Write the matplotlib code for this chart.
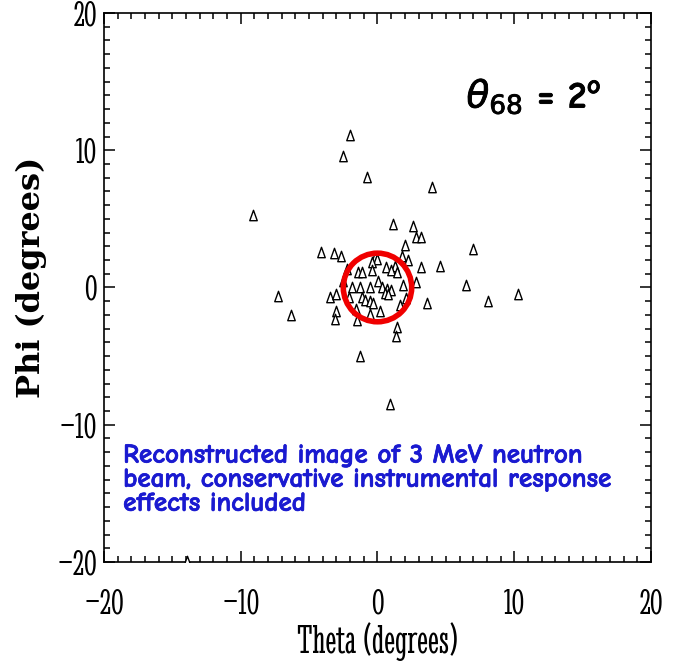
import matplotlib
matplotlib.use("Agg")
import matplotlib.pyplot as plt
import matplotlib.patheffects as pe
from matplotlib.patches import Circle
from matplotlib.path import Path
from matplotlib.ticker import MultipleLocator

# ---- data ----
theta = [-2.0, -2.55, -0.8, 3.96, -9.1, 1.15, 2.57, 2.8, 3.2, 2.0,
         -4.15, -3.2, -2.7, 7.0, 1.8, 2.2, -0.2, 0.0, -0.4, 3.2,
         4.6, -2.25, 0.6, 1.3, 1.0, 1.4, -0.4, -1.4, -1.1, -2.5,
         0.05, 2.8, 6.5, 1.9, -1.9, -1.3, -0.55, 0.3, 0.7, 1.0,
         0.55, 0.8, -3.5, -3.0, -2.1, -1.15, -0.9, -0.55, -0.35, 3.6,
         2.1, 1.65, -3.0, -3.1, -1.6, -0.55, 0.2, -1.5, 1.4, 1.33,
         -1.3, 0.9, 8.1, 10.3, -7.3, -6.3, -13.9]
phi = [11.1, 9.6, 8.05, 7.3, 5.25, 4.6, 4.45, 3.7, 3.7, 3.1,
       2.6, 2.5, 2.3, 2.8, 2.3, 2.0, 2.2, 2.1, 1.85, 1.5,
       1.55, 1.35, 1.5, 1.6, 1.25, 1.1, 1.25, 1.1, 1.1, 0.5,
       0.5, 0.4, 0.2, 0.15, 0.0, 0.0, 0.07, 0.0, -0.1, -0.2,
       -0.4, -0.5, -0.7, -0.5, -0.7, -0.7, -0.9, -0.95, -1.1, -1.1,
       -0.8, -1.25, -1.7, -2.3, -1.6, -1.9, -1.7, -2.4, -2.85, -3.5,
       -5.0, -8.5, -1.0, -0.5, -0.6, -2.0, -19.9]
circle_center = (0.0, 0.0)
circle_radius = 2.5
x_ticks = [-20, -10, 0, 10, 20]
y_ticks = [-20, -10, 0, 10, 20]
annotation = "Reconstructed image of 3 MeV neutron\nbeam, conservative instrumental response\neffects included"

# ---- figure ----
fig = plt.figure(figsize=(6.77, 6.66), dpi=100)
ax = fig.add_axes([0.1536, 0.1562, 0.808, 0.8243])

tri = Path([(-0.36, -0.5), (0.36, -0.5), (0.0, 0.5), (-0.36, -0.5)],
           [Path.MOVETO, Path.LINETO, Path.LINETO, Path.CLOSEPOLY])
ax.plot(theta, phi, linestyle="none", marker=tri, markersize=7.5,
        markerfacecolor="white", markeredgecolor="black", markeredgewidth=1.0,
        zorder=3)

ax.add_patch(Circle(circle_center, circle_radius, fill=False, edgecolor="#f00000",
                    linewidth=4.0, zorder=4))

ax.set_xlim(-20, 20)
ax.set_ylim(-20, 20)
ax.set_xticks(x_ticks)
ax.set_yticks(y_ticks)
ax.set_xticklabels([str(v).replace("-", "\u2212") for v in x_ticks])
ax.set_yticklabels([str(v).replace("-", "\u2212") for v in y_ticks])
ax.xaxis.set_minor_locator(MultipleLocator(1))
ax.yaxis.set_minor_locator(MultipleLocator(1))
ax.tick_params(which="both", direction="in", top=True, right=True, width=1.1, color="black")
ax.tick_params(which="major", length=8)
ax.tick_params(which="minor", length=4.5)
ax.tick_params(axis="x", which="major", pad=19)
ax.tick_params(axis="y", which="major", pad=5)
serif_cond = ["Stint Ultra Condensed", "Liberation Serif"]
for lab in ax.get_xticklabels() + ax.get_yticklabels():
    lab.set_fontfamily(serif_cond)
    lab.set_fontsize(27)
for sp in ax.spines.values():
    sp.set_linewidth(1.2)

ax.set_xlabel("Theta (degrees)", family=serif_cond, fontsize=30, labelpad=1)
ax.set_ylabel("Phi (degrees)", family=["DejaVu Serif"], fontweight="bold", fontsize=23)
ax.yaxis.set_label_coords(-0.104, 0.518)

blue = "#1a1ad0"
ax.text(-18.6, -11.45, annotation, color=blue, fontsize=19.5, fontweight="bold",
        family=["Comic Neue", "DejaVu Sans"], va="top", ha="left", linespacing=1.06,
        path_effects=[pe.withStroke(linewidth=0.5, foreground=blue)])

ax.text(6.5, 13.1, r"$\theta_{68}$ = 2$^\mathregular{o}$", fontsize=27, fontweight="bold",
        family=["Comic Neue", "DejaVu Sans"], va="baseline", ha="left",
        path_effects=[pe.withStroke(linewidth=0.6, foreground="black")])

fig.savefig("out.png", dpi=100, facecolor="white")
